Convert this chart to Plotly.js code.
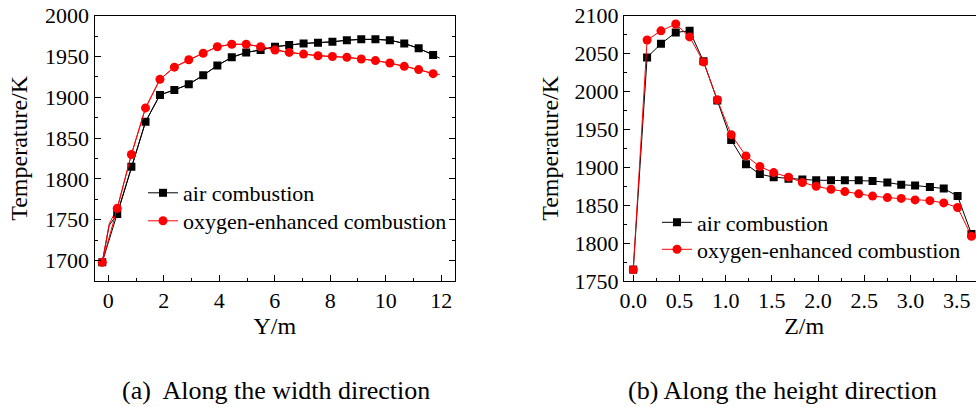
<!DOCTYPE html>
<html>
<head>
<meta charset="utf-8">
<script src="https://cdn.plot.ly/plotly-3.0.1.min.js"></script>
<style>
html, body { margin:0; padding:0; overflow:hidden; background:#fff; }
#chart { width:990px; height:407px; }
</style>
</head>
<body>
<div id="chart"></div>
<script>
// ---- (a) Along the width direction ----
const widthY = [-0.22, 0.32, 0.83, 1.34, 1.86, 2.38, 2.90, 3.42, 3.93, 4.45, 4.97, 5.49, 6.01, 6.52, 7.04, 7.56, 8.08, 8.60, 9.12, 9.63, 10.15, 10.67, 11.19, 11.71];
const widthAir = [1698, 1757, 1815, 1870, 1903, 1909, 1916, 1927, 1939, 1949, 1955, 1958, 1962, 1964, 1966, 1967, 1968, 1970, 1971, 1971, 1970, 1966, 1960, 1952];
const widthOxy = [1698, 1764, 1830, 1887, 1922, 1937, 1946, 1954, 1962, 1965, 1965, 1962, 1958, 1955, 1953, 1951, 1950, 1949, 1947, 1945, 1942, 1938, 1934, 1929];
// unmarked line vertices (wall points) of the width profiles
const widthEdgeY = [0.03, 11.95];
const widthEdgeAir = [1743, 1948];
const widthEdgeOxy = [1745, 1928];

// ---- (b) Along the height direction ----
const heightZ = [0, 0.15, 0.30, 0.46, 0.61, 0.76, 0.91, 1.06, 1.22, 1.37, 1.52, 1.68, 1.83, 1.98, 2.14, 2.29, 2.44, 2.59, 2.75, 2.90, 3.05, 3.21, 3.36, 3.51, 3.66];
const heightAir = [1765, 2045, 2063, 2078, 2080, 2040, 1988, 1936, 1904, 1891, 1887, 1885, 1884, 1883, 1883, 1883, 1883, 1882, 1880, 1877, 1876, 1874, 1872, 1862, 1812];
const heightOxy = [1765, 2068, 2080, 2089, 2072, 2039, 1989, 1943, 1915, 1901, 1893, 1887, 1880, 1875, 1871, 1868, 1865, 1862, 1860, 1859, 1857, 1856, 1853, 1847, 1809];

const seriesNames = ["air combustion", "oxygen-enhanced combustion"];
const captions = ["(a)\u00a0 Along the width direction", "(b) Along the height direction"];
const xTitles = ["Y/m", "Z/m"];
const yTitle = "Temperature/K";

const FONT = "Liberation Serif";
const W = 990, H = 407;
const BLACK = "#000000", RED = "#ff0000";

function withEdges(xs, ys, ex, ey) {
  const px = [ex[0]].concat(xs, [ex[1]]);
  const py = [ey[0]].concat(ys, [ey[1]]);
  const idx = px.map((v, i) => i).sort((a, b) => px[a] - px[b]);
  return { x: idx.map(i => px[i]), y: idx.map(i => py[i]) };
}
const airPath = withEdges(widthY, widthAir, widthEdgeY, widthEdgeAir);
const oxyPath = withEdges(widthY, widthOxy, widthEdgeY, widthEdgeOxy);

const sq = { symbol: "square", size: 8, color: BLACK };
const ci = { symbol: "circle", size: 9, color: RED };

const traces = [
  { x: airPath.x, y: airPath.y, mode: "lines", line: { color: BLACK, width: 1 }, showlegend: false, hoverinfo: "skip", xaxis: "x", yaxis: "y" },
  { x: oxyPath.x, y: oxyPath.y, mode: "lines", line: { color: RED, width: 1 }, showlegend: false, hoverinfo: "skip", xaxis: "x", yaxis: "y" },
  { x: widthY, y: widthAir, name: seriesNames[0], mode: "lines+markers", line: { color: BLACK, width: 1 },
    marker: sq, xaxis: "x", yaxis: "y", legend: "legend" },
  { x: widthY, y: widthOxy, name: seriesNames[1], mode: "lines+markers", line: { color: RED, width: 1 },
    marker: ci, xaxis: "x", yaxis: "y", legend: "legend2" },
  { x: heightZ, y: heightAir, name: seriesNames[0], mode: "lines+markers", line: { color: BLACK, width: 1 },
    marker: sq, xaxis: "x2", yaxis: "y2", legend: "legend3" },
  { x: heightZ, y: heightOxy, name: seriesNames[1], mode: "lines+markers", line: { color: RED, width: 1 },
    marker: ci, xaxis: "x2", yaxis: "y2", legend: "legend4" }
];

const tickFont = { family: FONT, size: 22, color: BLACK };
const titleFont = { family: FONT, size: 24, color: BLACK };

function xAxis(domain, range, dtick, minor, title, fmt) {
  return {
    domain: domain, range: range, dtick: dtick, tick0: 0, tickformat: fmt,
    ticks: "inside", ticklen: 6, tickwidth: 1, tickcolor: BLACK,
    minor: { dtick: minor, tick0: 0, ticks: "inside", ticklen: 3, tickwidth: 1, tickcolor: BLACK },
    showline: true, linecolor: BLACK, linewidth: 1, mirror: true,
    showgrid: false, zeroline: false,
    tickfont: tickFont,
    title: { text: title, font: titleFont, standoff: 0 },
    automargin: false
  };
}
function yAxis(domain, range, anchor, title, standoff) {
  return {
    domain: domain, range: range, dtick: 50, tick0: 0, anchor: anchor,
    ticks: "inside", ticklen: 6, tickwidth: 1, tickcolor: BLACK,
    minor: { dtick: 25, tick0: 0, ticks: "inside", ticklen: 3, tickwidth: 1, tickcolor: BLACK },
    showline: true, linecolor: BLACK, linewidth: 1, mirror: "ticks",
    showgrid: false, zeroline: false,
    tickfont: tickFont,
    title: { text: title, font: titleFont, standoff: standoff },
    automargin: false
  };
}

const yDom = [1 - 281 / H, 1 - 15.7 / H];
const legendFont = { family: FONT, size: 22, color: BLACK };
function leg(xpx, ypx) {
  return { x: xpx / W, y: 1 - ypx / H, xanchor: "left", yanchor: "top", bgcolor: "rgba(0,0,0,0)",
    borderwidth: 0, font: legendFont };
}

const layout = {
  width: W, height: H,
  margin: { l: 0, r: 0, t: 0, b: 0 },
  paper_bgcolor: "#fff", plot_bgcolor: "#fff",
  font: { family: FONT, color: BLACK },
  xaxis: xAxis([94.5 / W, 455 / W], [-0.5, 12.5], 2, 1, xTitles[0], "d"),
  yaxis: yAxis(yDom, [1675, 2000], "x", yTitle, 10),
  xaxis2: xAxis([624 / W, 984.4 / W], [-0.1, 3.8], 0.5, 0.25, xTitles[1], ".1f"),
  yaxis2: yAxis(yDom, [1750, 2100], "x2", yTitle, 9),
  legend: leg(143, 172),
  legend2: leg(143, 200),
  legend3: leg(657, 201.5),
  legend4: leg(657, 228.5),
  annotations: [
    { text: captions[0], xref: "paper", yref: "paper", x: 276 / W, y: 1 - 390 / H, xanchor: "center", yanchor: "middle",
      showarrow: false, font: { family: FONT, size: 26, color: BLACK } },
    { text: captions[1], xref: "paper", yref: "paper", x: 782 / W, y: 1 - 390 / H, xanchor: "center", yanchor: "middle",
      showarrow: false, font: { family: FONT, size: 26, color: BLACK } }
  ],
  showlegend: true
};

Plotly.newPlot("chart", traces, layout, { staticPlot: true, displayModeBar: false });
</script>
</body>
</html>
